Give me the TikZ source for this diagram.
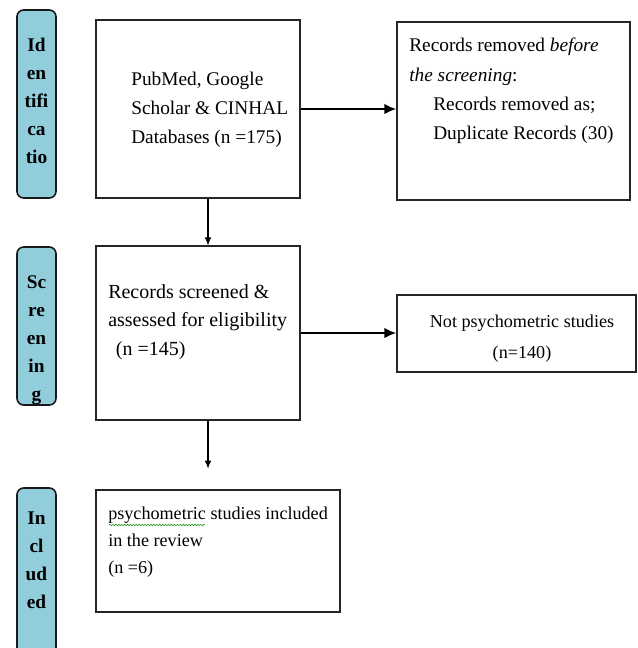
\documentclass[tikz,border=0pt]{standalone}
\usepackage{fontspec}
\setmainfont{Liberation Serif}
\usetikzlibrary{arrows.meta,fit,calc,decorations.pathmorphing}
\definecolor{tabblue}{RGB}{146,205,220}
\begin{document}
\begin{tikzpicture}[x=0.75pt,y=-0.75pt,
    box/.style={draw=black!85, line width=0.9pt, inner sep=0pt},
    tab/.style={draw=black!90, line width=1.2pt, rounded corners=5pt, fill=tabblue, inner sep=0pt},
    tabtxt/.style={font=\fontsize{14.5}{21}\selectfont\bfseries, align=center, anchor=north, inner sep=0pt},
    txt/.style={font=\fontsize{14.5}{21.5}\selectfont, align=left, anchor=north west, inner sep=0pt},
    harr/.style={-{Latex[length=9pt,width=8pt]}, line width=2.2pt},
    varr/.style={-{Latex[length=6pt,width=5pt]}, line width=0.8pt}]
\useasboundingbox (0,0) rectangle (637,648);
% side tabs
\foreach \ytop/\ybot/\ytxt/\lbl [count=\i] in {10/198/38/{Id\\en\\tifi\\ca\\tio},
    247/405/275/{Sc\\re\\en\\in\\g}, 488/662/512/{In\\cl\\ud\\ed}} {
    \node[tab, fit={(17,\ytop) (56,\ybot)}] (tab\i) {};
    \node[tabtxt] (tabl\i) at (36.5,\ytxt) {\lbl};}
% boxes
\node[box, fit={(96,20) (300,198)}] (db) {};
\node[box, fit={(397,22) (630,200)}] (dup) {};
\node[box, fit={(96,246) (300,420)}] (scr) {};
\node[box, fit={(397,295) (636,372)}] (notps) {};
\node[box, fit={(96,490) (340,612)}] (incl) {};
\node[txt] (dbt) at (131,72) {PubMed, Google\\Scholar \& CINHAL\\Databases (n =175)};
\node[txt, font=\fontsize{14.5}{22}\selectfont] (dupt) at (409,38) {Records removed \textit{before}\\\textit{the screening}:\\
    \hspace*{18pt}Records removed as;\\\hspace*{18pt}Duplicate Records (30)};
\node[txt, font=\fontsize{15}{21.5}\selectfont] (scrt) at (108,284) {Records screened \&\\assessed for eligibility\\\hspace*{2pt} (n =145)};
\node[txt, align=center, anchor=north, font=\fontsize{13.6}{23}\selectfont] (notpst) at (522,315) {Not psychometric studies\\(n=140)};
\node[txt, font=\fontsize{13.6}{20.3}\selectfont] (inclt) at (108,507) {psychometric studies included\\in the review\\(n =6)};
\draw[green!55!black, line width=0.4pt, decorate, decoration={snake, amplitude=0.5pt, segment length=2.2pt}]
    (109,525) -- (205,525);
% arrows
\coordinate (endarr) at ($(scr.south)+(10,48)$);
\draw[harr] (db.east) -- (db.east -| dup.west);
\draw[harr] (scr.east) -- (scr.east -| notps.west);
\draw[varr] ($(db.south)+(10,0)$) -- ($(scr.north)+(10,0)$);
\draw[varr] ($(scr.south)+(10,0)$) -- (endarr);
\end{tikzpicture}
\end{document}
